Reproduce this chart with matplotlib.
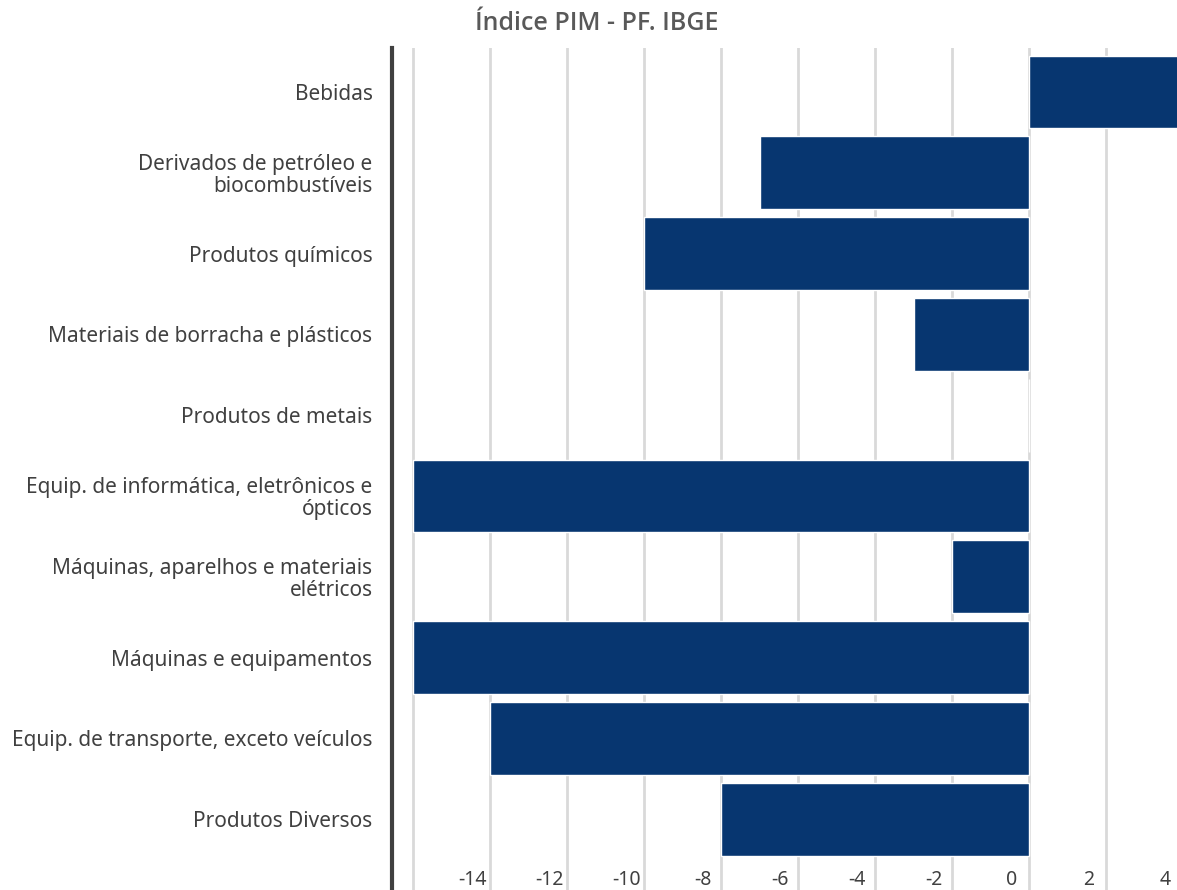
import matplotlib.pyplot as plt
from matplotlib.transforms import ScaledTranslation

categorias = ['Bebidas', 'Derivados de petróleo e\nbiocombustíveis', 'Produtos químicos',
              'Materiais de borracha e plásticos', 'Produtos de metais',
              'Equip. de informática, eletrônicos e\nópticos',
              'Máquinas, aparelhos e materiais\nelétricos', 'Máquinas e equipamentos',
              'Equip. de transporte, exceto veículos', 'Produtos Diversos']
valores = [4.5, -7.0, -10.0, -3.0, 0.0, -16.0, -2.0, -16.0, -14.0, -8.0]
xticks = [-16, -14, -12, -10, -8, -6, -4, -2, 0, 2, 4]

W, H = 1177, 890
fig = plt.figure(figsize=(W / 100, H / 100), dpi=100)
# axes in pixels: left 392, top 48, bottom below the picture
left, top, bottom = 392, 48, 900
xmin, xmax = -16.55, 4.6
pxu = 38.5
width = (xmax - xmin) * pxu
ax = fig.add_axes([left / W, (H - bottom) / H, width / W, (bottom - top) / H])

y = list(range(len(categorias)))
ax.barh(y, valores, height=0.9, color='#073670', edgecolor='white', linewidth=1, zorder=3)

ax.set_xlim(xmin, xmax)
row = 80.8
ax.set_ylim((bottom - 92) / row, (top - 92) / row)
ax.set_yticks(y)
ax.set_yticklabels(categorias, fontsize=15, color='#404040', family=['Noto Sans', 'DejaVu Sans'],
                   linespacing=1.05)
ax.tick_params(axis='y', length=0, pad=14)

ax.set_xticks(xticks)
ax.set_xticklabels(['' if v == -16 else str(v) for v in xticks], fontsize=14, color='#404040',
                   family=['Noto Sans', 'DejaVu Sans'])
ax.tick_params(axis='x', length=0, pad=0)
off = ScaledTranslation(-0.18, 0.30, fig.dpi_scale_trans)
for lab in ax.get_xticklabels():
    lab.set_transform(lab.get_transform() + off)

ax.grid(axis='x', color='#d9d9d9', linewidth=2, zorder=0)
for s in ['top', 'right', 'bottom']:
    ax.spines[s].set_visible(False)
ax.spines['left'].set_color('#404040')
ax.spines['left'].set_linewidth(3)
ax.spines['left'].set_zorder(4)

fig.text(597 / W, 1 - 24 / H, 'Índice PIM - PF. IBGE', ha='center', va='center', fontsize=18,
         fontweight='semibold', color='#595959', family=['Open Sans', 'DejaVu Sans'])

fig.savefig('out.png', dpi=100)
